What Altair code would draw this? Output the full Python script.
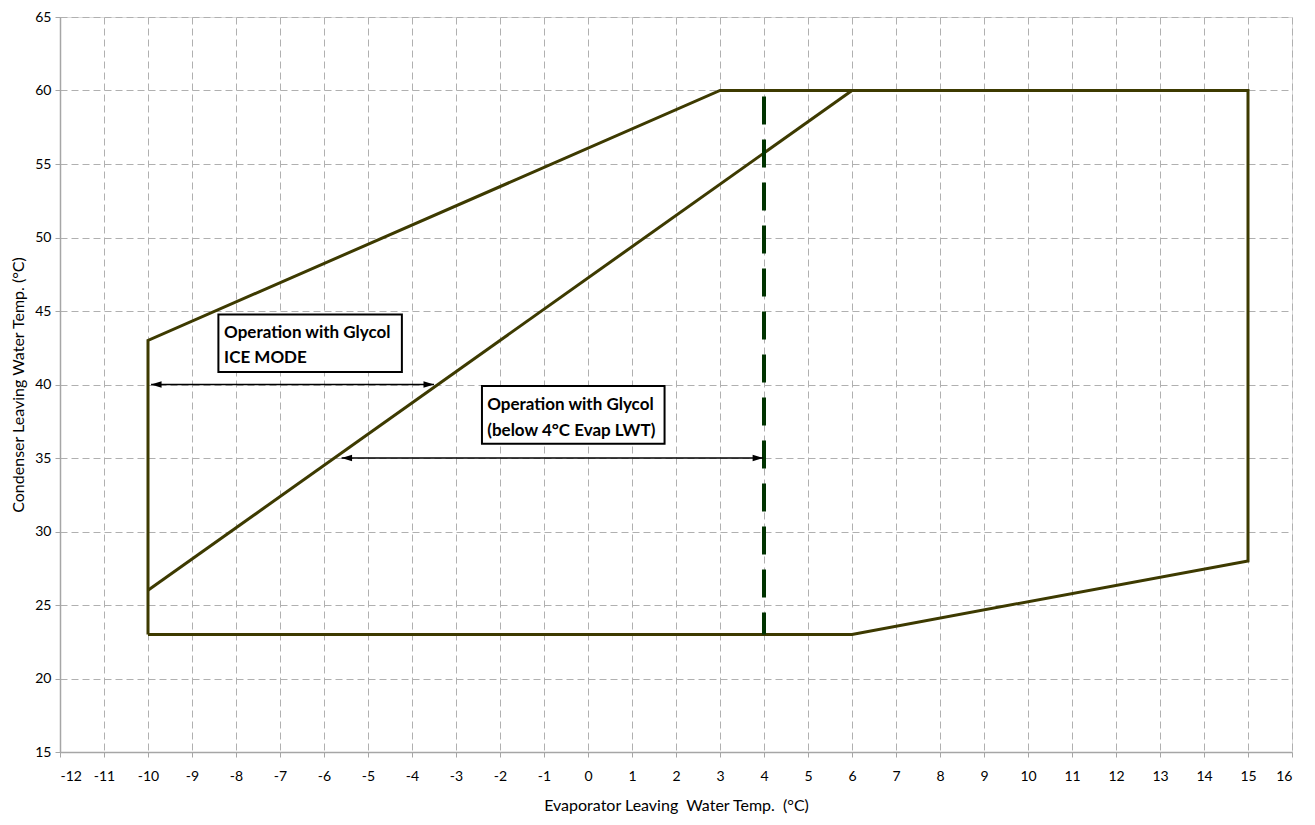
import altair as alt
import pandas as pd

# Operating envelope
env_x = [-10, -10, 3, 15, 15, 6, -10]
env_y = [23, 43, 60, 60, 28, 23, 23]
# Diagonal limit line
diag_x = [-10, 6]
diag_y = [26, 60]
# Vertical 4°C line
vline_x = 4
vline_y = [60, 23]
# Arrows (y, x_start, x_end)
arrow_y = [40, 35]
arrow_x1 = [-9.93, -5.6]
arrow_x2 = [-3.5, 3.98]
# Text boxes
box_x1 = [-8.4, -2.41]
box_x2 = [-4.23, 1.74]
box_y1 = [44.77, 39.9]
box_y2 = [40.85, 35.97]
label_text = ["Operation with Glycol", " ICE MODE", "Operation with Glycol", "(below 4°C Evap LWT)"]
label_x = [-8.27, -8.27, -2.29, -2.29]
label_y = [43.48, 41.79, 38.6, 36.85]

x_ticks = list(range(-12, 17))
y_ticks = list(range(15, 66, 5))

FONT = "Lato"
xs = alt.Scale(domain=[-12, 16], nice=False, zero=False)
ys = alt.Scale(domain=[15, 65], nice=False, zero=False)

env_df = pd.DataFrame({"x": env_x, "y": env_y, "o": list(range(len(env_x)))})
diag_df = pd.DataFrame({"x": diag_x, "y": diag_y})
vline_df = pd.DataFrame({"x": [vline_x], "y": [vline_y[0]], "y2": [vline_y[1]]})
arrow_df = pd.DataFrame({"y": arrow_y, "x": arrow_x1, "x2": arrow_x2})
box_df = pd.DataFrame({"x": box_x1, "x2": box_x2, "y": box_y1, "y2": box_y2})
lab_df = pd.DataFrame({"x": label_x, "y": label_y, "t": label_text})

xaxis = alt.Axis(values=x_ticks, title="Evaporator Leaving\u00a0 Water Temp.\u00a0 (°C)",
                 labelExpr="'' + datum.value",
                 grid=True, gridDash=[7, 4], gridColor="#b0b0b0", gridWidth=1,
                 domainColor="#a6a6a6", domainWidth=1.5, tickColor="#a6a6a6", tickSize=5,
                 labelFont=FONT, labelFontSize=14, labelColor="#000000", labelPadding=12,
                 titleFont=FONT, titleFontSize=16, titleFontWeight="normal", titleColor="#000000",
                 titlePadding=14)
yaxis = alt.Axis(values=y_ticks, title="Condenser Leaving Water Temp. (°C)",
                 grid=True, gridDash=[7, 4], gridColor="#b0b0b0", gridWidth=1,
                 domainColor="#a6a6a6", domainWidth=1.5, tickColor="#a6a6a6", tickSize=5,
                 labelFont=FONT, labelFontSize=14, labelColor="#000000", labelPadding=4,
                 titleFont=FONT, titleFontSize=16, titleFontWeight="normal", titleColor="#000000",
                 titleX=-34)

base_env = alt.Chart(env_df).mark_line(color="#3d3a00", strokeWidth=3, strokeJoin="miter").encode(
    x=alt.X("x:Q", scale=xs, axis=xaxis),
    y=alt.Y("y:Q", scale=ys, axis=yaxis),
    order="o:Q",
)
diag = alt.Chart(diag_df).mark_line(color="#3d3a00", strokeWidth=3).encode(
    x=alt.X("x:Q", scale=xs), y=alt.Y("y:Q", scale=ys))
vline = alt.Chart(vline_df).mark_rule(color="#003300", strokeWidth=4, strokeDash=[28, 15],
                                      strokeDashOffset=37).encode(
    x=alt.X("x:Q", scale=xs), y=alt.Y("y:Q", scale=ys), y2="y2:Q")
arrows = alt.Chart(arrow_df).mark_rule(color="#000000", strokeWidth=1.5).encode(
    x=alt.X("x:Q", scale=xs), x2="x2:Q", y=alt.Y("y:Q", scale=ys))
head_l = alt.Chart(arrow_df).mark_point(shape="M0,0L2,-0.62L2,0.62Z", filled=True, size=110,
                                        color="#000000", opacity=1).encode(
    x=alt.X("x:Q", scale=xs), y=alt.Y("y:Q", scale=ys))
head_r = alt.Chart(arrow_df).mark_point(shape="M0,0L-2,-0.62L-2,0.62Z", filled=True, size=110,
                                        color="#000000", opacity=1).encode(
    x=alt.X("x2:Q", scale=xs), y=alt.Y("y:Q", scale=ys))
boxes = alt.Chart(box_df).mark_rect(fill="#ffffff", stroke="#000000", strokeWidth=2).encode(
    x=alt.X("x:Q", scale=xs), x2="x2:Q", y=alt.Y("y:Q", scale=ys), y2="y2:Q")
labels = alt.Chart(lab_df).mark_text(align="left", baseline="middle", font=FONT, fontSize=17,
                                     fontWeight="bold", color="#000000").encode(
    x=alt.X("x:Q", scale=xs), y=alt.Y("y:Q", scale=ys), text="t:N")

chart = alt.layer(base_env, diag, vline, arrows, head_l, head_r, boxes, labels).properties(
    width=1232, height=735,
    autosize=alt.AutoSizeParams(type="none"),
    padding={"left": 52, "top": 9, "right": 15, "bottom": 65},
).configure_view(stroke=None).configure(background="#ffffff")

chart.save("out.html", embed_options={"renderer": "svg", "actions": False})
